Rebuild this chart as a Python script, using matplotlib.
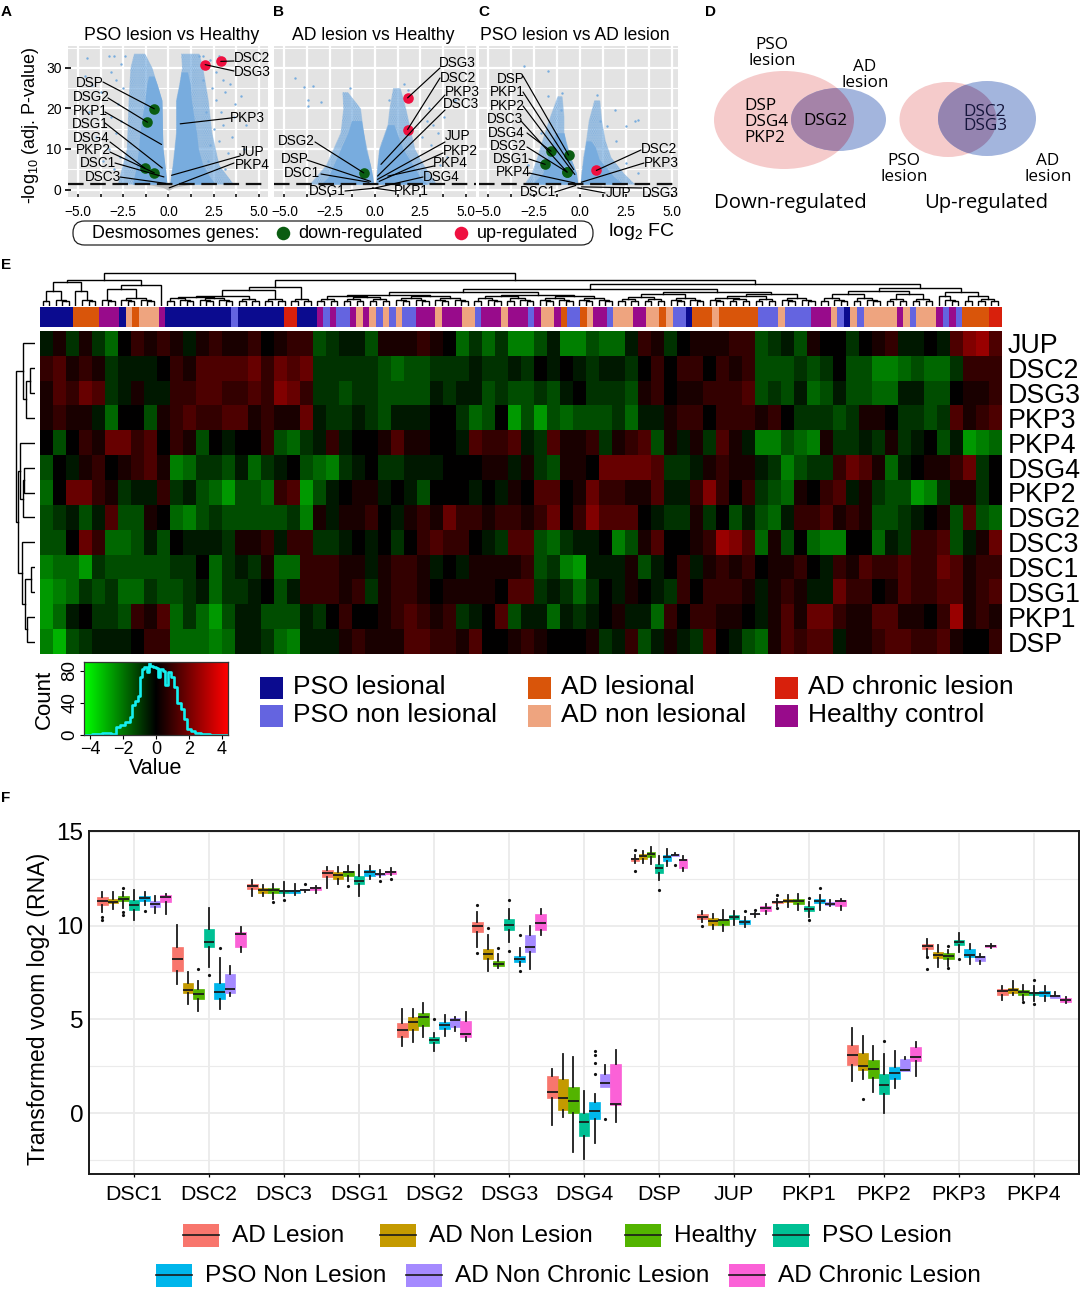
import math
import numpy as np
import matplotlib
matplotlib.use("Agg")
import matplotlib.pyplot as plt
from matplotlib.colors import LinearSegmentedColormap, ListedColormap
from matplotlib.patches import Ellipse, FancyBboxPatch, Rectangle

plt.rcParams['font.family'] = ['Liberation Sans', 'DejaVu Sans']
plt.rcParams['mathtext.default'] = 'regular'

W, H = 1084, 1289

# ---------- volcano data ----------
BLUE = '#78acde'
GREEN = '#0b5d12'
RED = '#ef1040'

a_titles = ['PSO lesion vs Healthy', 'AD lesion vs Healthy', 'PSO lesion vs AD lesion']

# dense cloud envelopes: -log10(p) level, inner and outer logFC
a_left_v = [1.3, 5, 10, 14, 18, 22, 26, 28]
a_left_in = [-0.08, -0.17, -0.3, -0.33, -0.34, -0.36, -0.63, -0.8]
a_left_out = [-2.0, -1.8, -1.65, -1.58, -1.45, -1.3, -1.2, -1.1]
a_right_v = [1.3, 3, 6, 10, 14, 18, 22, 26, 29]
a_right_in = [0.08, 0.13, 0.23, 0.33, 0.42, 0.42, 0.42, 0.6, 0.7]
a_right_out = [2.6, 2.3, 1.9, 1.65, 1.55, 1.4, 1.27, 1.2, 1.05]
# sparse cloud envelopes
a_lsp_v = [1.3, 10, 22, 26, 30, 33.5]
a_lsp_in = [-0.08, -0.3, -0.36, -0.63, -0.9, -1.3]
a_lsp_out = [-2.8, -2.3, -2.2, -2.15, -2.1, -1.9]
a_rsp_v = [1.3, 6, 14, 22, 26, 30, 33.5]
a_rsp_in = [0.08, 0.23, 0.42, 0.42, 0.6, 0.75, 0.7]
a_rsp_out = [3.6, 2.8, 2.4, 2.2, 2.05, 1.9, 1.7]
a_pts_fc = [-4.5, -4.6, -4.2, -3.7, -3.3, -3.0, -3.2, -2.9, -2.6, -2.4, -2.8, -2.5, -3.2, -4.0, -3.3, -3.6, -2.9, -2.6,
            -3.0, -2.7, -4.4, 1.7, 2.3, 2.6, 3.0, 3.4, 3.1, 4.0, 3.7, 2.6, 2.9, 3.6, 2.5, 3.0, 2.8, 3.5, 4.2, 3.3, 2.2,
            3.1, 4.3, 2.4, 1.9, 2.1, 2.3, 1.9, 2.8]
a_pts_v = [32.5, 28, 25.7, 24, 33, 33, 29, 27, 31, 33, 21, 25, 18, 13, 10, 7, 14, 17,
           5, 8, 19, 33, 32, 29, 27, 26, 24, 23, 21, 22, 19, 18, 15, 16, 12, 13, 10, 9, 7,
           5, 16, 25, 27, 19, 11, 33, 33]

b_left_v = [1.3, 3, 6, 10, 14, 17]
b_left_in = [-0.08, -0.12, -0.25, -0.5, -0.63, -0.75]
b_left_out = [-3.0, -2.6, -2.3, -1.9, -1.5, -1.3]
b_right_v = [1.3, 3, 6, 10, 14, 16]
b_right_in = [0.06, 0.08, 0.13, 0.23, 0.55, 0.7]
b_right_out = [2.9, 2.5, 2.1, 1.55, 1.2, 1.05]
b_lsp_v = [1.3, 6, 14, 20, 24]
b_lsp_in = [-0.08, -0.25, -0.63, -0.8, -1.5]
b_lsp_out = [-3.6, -2.7, -1.9, -1.75, -1.8]
b_rsp_v = [1.3, 6, 10, 16, 20, 25]
b_rsp_in = [0.06, 0.13, 0.23, 0.7, 0.8, 1.0]
b_rsp_out = [3.4, 2.7, 2.2, 1.9, 1.7, 1.4]
b_pts_fc = [-4.4, -3.4, -3.9, -1.4, -3.7, -3.0, -3.7, 0.8, 1.6, 1.8, 4.4, 3.5, 3.8, 3.0, 3.2, 4.0, 3.6, 2.9, 2.6, 3.1]
b_pts_v = [27.5, 25.6, 25.3, 25, 22, 21.5, 20.5, 22, 26, 24.6, 22, 14, 18, 20, 16, 8, 6, 17, 13, 11]

c_left_v = [1.3, 4, 8, 11.5, 14]
c_left_in = [-0.1, -0.17, -0.5, -0.75, -0.85]
c_left_out = [-2.6, -2.0, -1.75, -1.5, -1.3]
c_right_v = [1.3, 3, 4, 7.5, 10.5, 12]
c_right_in = [0.05, 0.08, 0.1, 0.2, 0.3, 0.35]
c_right_out = [2.4, 1.9, 1.7, 1.06, 0.85, 0.6]
c_lsp_v = [1.3, 4, 8, 14, 18, 23]
c_lsp_in = [-0.1, -0.17, -0.5, -0.85, -0.85, -0.95]
c_lsp_out = [-3.0, -2.6, -2.3, -1.9, -1.6, -1.2]
c_rsp_v = [1.3, 4, 8, 12, 17, 22]
c_rsp_in = [0.05, 0.1, 0.2, 0.35, 0.5, 0.8]
c_rsp_out = [3.0, 2.4, 1.7, 1.4, 1.2, 1.1]
c_pts_fc = [-3.0, -1.7, -1.7, -0.95, -1.0, 0.95, 1.9, 3.0, 3.2, 2.5, 2.0, 3.2, 2.5, 1.5, 1.1, -2.1, -2.8]
c_pts_v = [30.4, 29.3, 23, 23.8, 19.7, 23.4, 19.7, 16.8, 17.2, 15.6, 12, 4, 6.5, 15.6, 17, 14, 6]

# gene, logFC, -log10 p, significance ('d', 'u' or '')
a_genes = ['DSC2', 'DSG3', 'DSP', 'DSG2', 'PKP1', 'DSG1', 'DSG4', 'PKP2', 'DSC1', 'DSC3', 'PKP3', 'JUP', 'PKP4']
a_fc = [2.89, 2.03, -0.78, -1.16, -0.38, -0.34, -1.29, -0.78, -0.25, -0.15, 0.65, 0.17, 0.04]
a_lp = [31.6, 30.8, 19.9, 16.6, 11.1, 5.3, 5.2, 4.1, 3.1, 1.5, 16.2, 3.5, 0.4]
a_sig = ['u', 'u', 'd', 'd', '', '', 'd', 'd', '', '', '', '', '']
b_genes = ['DSG3', 'DSC2', 'PKP3', 'DSC3', 'JUP', 'PKP2', 'PKP4', 'DSG4', 'PKP1', 'DSG1', 'DSC1', 'DSP', 'DSG2']
b_fc = [1.8, 1.8, 0.33, 0.14, 0.14, 0.23, 0.71, 0.04, -0.14, -0.06, -0.33, -0.24, -0.62]
b_lp = [22.6, 14.8, 6.2, 3.3, 2.5, 2.0, 3.3, 0.4, 0.4, 0.3, 1.8, 2.0, 4.1]
b_sig = ['u', 'u', '', '', '', '', '', '', '', '', '', '', 'd']
c_genes = ['DSP', 'PKP1', 'PKP2', 'DSC3', 'DSG4', 'DSG2', 'DSG1', 'PKP4', 'DSC1', 'JUP', 'DSG3', 'DSC2', 'PKP3']
c_fc = [-0.6, -0.32, -0.26, -0.68, -1.55, -0.68, -1.87, -0.26, -0.21, -0.1, 0.1, 0.91, 0.1]
c_lp = [8.5, 4.9, 3.7, 4.3, 9.45, 4.3, 6.2, 1.6, 1.0, 0.4, 0.65, 4.7, 1.8]
c_sig = ['d', '', '', 'd', 'd', 'd', 'd', '', '', '', '', 'u', '']

# ---------- heatmap data ----------
row_names = ['JUP', 'DSC2', 'DSG3', 'PKP3', 'PKP4', 'DSG4', 'PKP2', 'DSG2', 'DSC3', 'DSC1', 'DSG1', 'PKP1', 'DSP']
heat_jup = [-1,1,-2,1,-2,-4,0,2,1,2,1,-1,1,2,1,1,2,0,1,2,2,-3,-2,-1,-1, -3,1,1,1,2,1,0,-4,-2,-4,-2,-5,-5,-3,-1,-5,-5,-3,-4,-4,-1,2,1,-2,0, 1,1,1,2,2,-3,-2,-1,-3,1,0,0,-2,0,1,2,-1,-1,0,-1,3,5,6,3]
heat_dsc2 = [2,3,1,2,1,-2,-1,-1,-1,0,2,1,3,3,3,3,4,2,4,3,4,-2,-2,-2,-2, -2,-3,-4,-3,-3,-2,-2,-2,-1,-2,-2,-1,-2,0,-1,0,-1,-2,-1,-1,-2,0,2,0,2, 2,0,2,1,2,-3,-3,-3,-2,-3,-2,0,-3,-3,-5,-5,-4,-3,-4,-4,-2,2,2,2]
heat_dsg3 = [1,3,2,4,3,-2,-1,1,-1,-1,2,2,3,3,2,2,3,2,5,4,2,-2,-2,-3,-2, -2,-3,-3,-3,-3,-1,-2,-1,-1,-3,-2,-3,-3,-2,-3,-1,0,-2,-2,-2,-3,1,2,0,1, 1,2,2,2,3,-3,-2,-3,-1,-4,-3,-1,-3,-3,-4,-4,-1,-1,-3,-3,0,1,1,2]
heat_pkp3 = [1,2,1,1,-1,-4,0,0,-3,1,2,3,2,2,3,3,1,2,1,1,4,-1,-2,-2,-1, -2,-3,-1,-1,-1,0,0,-2,-4,-3,0,-6,-3,-6,-3,-4,-3,-3,-3,-2,-4,-1,-1,1,2, 2,0,2,2,2,1,2,0,-2,-2,-2,-3,-2,1,1,0,-2,-2,-3,-2,3,1,2,3]
heat_pkp4 = [0,-3,0,2,1,4,4,2,3,0,2,1,-3,0,-1,0,0,2,-3,-4,-2,-1,2,-1,0, 0,1,3,1,1,0,0,-1,3,2,2,3,-1,-2,3,1,1,2,-2,1,2,3,-3,1,-1, 1,-2,3,1,-1,-5,-5,-3,-4,-5,1,-2,-2,-1,-2,1,-2,-1,0,-3,-1,-6,-5,-4]
heat_dsg4 = [-3,0,-1,1,2,0,1,2,3,1,-5,-4,-2,-2,-3,-1,-4,-2,-1,0,-3,-4,-5,-2,-1, 0,-2,-2,-1,-1,-1,0,0,0,1,1,-1,1,-2,-3,1,1,0,4,4,4,4,3,-2,-2, -1,1,2,1,1,-1,-2,-5,-3,-2,-2,2,4,3,1,-4,-1,0,1,1,2,4,-2,0]
heat_pkp2 = [-4,0,4,4,2,1,-2,-1,-1,2,-2,-1,-3,-4,-6,-3,-3,-4,2,3,-6,-3,-1,0,1, 1,-1,0,-1,-3,0,0,0,-1,0,-1,1,0,3,3,0,1,4,2,2,1,1,3,-1,-1, 2,5,2,0,2,-2,-3,-4,1,0,2,3,-1,1,-2,-3,-3,-6,-5,-2,1,1,-2,0]
heat_dsg2 = [-3,-2,-1,-3,-1,3,-3,-3,1,0,-4,-5,-3,-2,-3,-3,-3,-3,-3,-2,-5,1,-1,1,1, 2,0,-1,1,2,1,4,2,2,1,2,2,1,2,4,0,2,5,3,3,3,0,-1,-2,-2, 1,-2,0,-3,-1,-3,-4,-1,2,2,3,1,2,1,-3,-3,-2,-1,0,1,-3,3,-3,-4]
heat_dsc3 = [-3,-3,0,4,2,-4,-4,-3,-1,-3,0,-1,-1,-1,-2,1,1,2,-1,2,2,-2,-2,-1,0, -1,0,-2,0,2,3,2,2,0,-1,-2,3,3,-3,-4,-2,-1,-1,0,-5,-3,1,3,0,0, 1,2,6,5,3,-4,1,-3,0,-4,-5,-5,0,0,-4,-1,-2,2,2,3,-3,-1,1,4]
heat_dsc1 = [-5,-4,-4,-6,-2,-3,-3,-3,-3,-3,-2,-2,0,-4,-2,-1,-2,1,-4,-4,2,2,2,1,1, -1,1,2,2,1,-1,0,-1,1,1,1,1,2,-3,-2,-5,-6,-1,-1,-1,1,-3,-1,0,2, -1,1,2,1,2,0,1,1,2,0,-1,2,1,3,2,2,3,2,2,4,3,1,2,2]
heat_dsg1 = [-6,-5,-4,-2,-3,-2,-4,-4,-2,-3,-3,-2,-1,-4,-2,-2,-1,0,-3,-1,2,2,2,1,2, -2,1,2,2,1,0,1,1,1,1,0,3,3,-2,-1,-2,-4,-2,0,-1,1,0,-1,-2,2, 0,2,2,2,1,-1,1,2,1,-1,-1,4,2,2,0,1,3,2,2,3,3,1,2,3]
heat_pkp1 = [-6,-4,-1,0,-2,-2,-3,2,1,3,-4,-2,-4,-6,-3,-1,-1,-3,-3,-3,-1,-2,0,2,0, 0,1,2,3,2,1,2,-2,-1,0,3,-3,-1,-1,-4,-1,-2,-1,0,1,-1,-1,-4,2,0, 2,2,1,1,0,-1,1,3,1,4,4,2,1,1,3,3,1,1,0,2,6,1,2,1]
heat_dsp = [-5,-7,-3,-2,-1,-1,-1,0,2,2,-4,-4,-4,-5,-4,-1,-1,-2,-4,-5,-1,-1,-1,1,2, 1,1,1,3,3,2,2,1,3,0,0,1,2,1,0,0,0,1,-2,-1,2,-3,-1,1,-1, -2,3,0,-1,-3,-4,1,3,2,3,3,-1,1,1,2,3,3,2,2,3,1,0,0,2]

group_names = ['PSO lesional', 'PSO non lesional', 'AD lesional', 'AD non lesional', 'AD chronic lesion', 'Healthy control']
group_colors = ['#0b0b8f', '#6464e0', '#d9550a', '#eea47f', '#d8200c', '#980b8b']
# sample groups along the top bar: group index, run length
bar_groups = [0,2,5,0,3,2,3,5,0,1,0,4,0,5,1,5,1,5,3,5,3,1,3,1,3,1,5,3,5,3,1,5,3,5,1,5,
              3,5,2,1,2,3,5,1,3,5,3,2,3,1,0,2,3,2,1,3,1,5,3,1,0,3,1,3,5,3,1,3,5,1,5,1,2,4,2]
bar_runs = [5,4,3,1,1,1,3,1,10,1,7,2,3,1,1,1,2,1,1,1,1,1,1,1,1,2,3,1,3,2,1,3,1,3,1,1,
            2,1,1,2,1,1,2,1,3,2,2,1,1,2,1,3,1,6,3,1,4,3,1,1,1,1,1,5,1,1,1,3,1,1,1,1,4,2,0]

# nested merges: (merge height, left, right); an integer is a small group of samples
col_tree = (33,
            (26,
             (24, (15, 2, 3), (15, 1, 3)),
             (21, (17, 3, 6), 1)),
            (26,
             (19, (16, (10, 11, 4), 4), 4),
             (22,
              (17,
               (14, (11, (10, 4, 8), (10, 6, 6)), (11, (10, 5, 5), (10, 6, 6))),
               (14, (12, 8, 6), (12, (10, 7, 4), 6))),
              (18,
               (15, (12, 5, 5), (12, 4, 4)),
               (14, (10, 1, 3), (10, 2, 4))))))
row_tree = (19,
            (12, 1, (9, (5, 1, 1), 1)),
            (17,
             (15, 1, (12, (11, 1, 1), 1)),
             (13, 1, (10, (4.5, 1, 1), (8, 1, 1)))))

hist_value = [-4.3, -3.5, -3.0, -2.5, -2.3, -2.0, -1.7, -1.5, -1.4, -1.2, -1.0, -0.9, -0.8, -0.6, -0.5, -0.4, -0.3, -0.1,
              0.1, 0.2, 0.3, 0.5, 0.6, 0.8, 1.0, 1.2, 1.4, 1.6, 1.8, 2.0, 2.2, 2.5, 3.0, 3.5, 4.3]
hist_count = [0, 1, 2, 1, 10, 12, 16, 22, 38, 42, 48, 72, 82, 85, 78, 90, 86, 85,
              84, 72, 82, 80, 62, 78, 72, 60, 40, 32, 20, 8, 5, 3, 1, 0.5, 0]

# ---------- box plot data: low whisker, q1, median, q3, high whisker, outliers ----------
box_genes = ['DSC1', 'DSC2', 'DSC3', 'DSG1', 'DSG2', 'DSG3', 'DSG4', 'DSP', 'JUP', 'PKP1', 'PKP2', 'PKP3', 'PKP4']
box_groups = ['AD Lesion', 'AD Non Lesion', 'Healthy', 'PSO Lesion', 'PSO Non Lesion', 'AD Non Chronic Lesion', 'AD Chronic Lesion']
box_colors = ['#F8766D', '#C49A00', '#53B400', '#00C094', '#00B6EB', '#A58AFF', '#FB61D7']
box_dsc1 = [(10.73,11.12,11.31,11.53,11.81,[10.44,10.3]), (10.9,11.19,11.26,11.44,11.78,[]), (10.96,11.31,11.42,11.56,11.78,[10.7,10.55,11.99]),
            (10.28,10.85,11.08,11.37,11.87,[]), (11.12,11.31,11.46,11.58,11.79,[10.8]), (10.67,10.99,11.14,11.31,11.6,[]), (10.64,11.23,11.51,11.62,11.67,[])]
box_dsc2 = [(6.86,7.57,8.22,8.88,10.05,[]), (5.84,6.38,6.55,6.93,7.5,[]), (5.44,6.09,6.34,6.63,7.03,[7.66]),
            (7.78,8.85,9.13,9.8,10.92,[7.34]), (5.56,6.06,6.47,6.96,8.28,[8.79]), (6.22,6.41,6.63,7.42,7.85,[]), (8.61,8.88,9.56,9.63,9.91,[])]
box_dsc3 = [(11.58,11.95,12.11,12.24,12.43,[]), (11.6,11.72,11.88,12.02,12.17,[]), (11.4,11.76,11.92,12.02,12.2,[11.24]),
            (11.55,11.72,11.83,11.92,12.33,[11.35]), (11.62,11.76,11.85,11.92,12.24,[]), (11.81,11.87,11.9,11.94,11.97,[12.2]), (11.76,11.87,12.01,12.08,12.13,[])]
box_dsg1 = [(12.01,12.58,12.79,12.97,13.14,[]), (12.24,12.5,12.7,12.86,13.11,[]), (12.38,12.66,12.83,12.9,13.2,[12.1]),
            (11.56,12.22,12.36,12.65,13.22,[]), (12.49,12.63,12.84,12.95,13.16,[]), (12.61,12.68,12.74,12.79,12.95,[12.38]), (12.7,12.77,12.86,12.93,13.05,[12.5])]
box_dsg2 = [(3.55,4.05,4.42,4.8,5.54,[]), (3.77,4.44,4.83,5.13,5.54,[]), (4.03,4.62,5.12,5.35,5.88,[]),
            (3.29,3.71,3.89,4.03,4.26,[5.04]), (4.09,4.49,4.69,4.88,5.24,[]), (4.4,4.58,4.97,5.06,5.13,[]), (3.85,4.05,4.21,4.92,5.38,[])]
box_dsg3 = [(8.85,9.63,9.95,10.18,10.71,[11.12,8.53]), (7.6,8.21,8.49,8.74,9.47,[9.86]), (7.71,7.82,7.96,8.12,8.47,[8.79]),
            (9.13,9.75,10.05,10.34,10.89,[11.35,8.65]), (7.85,8.08,8.24,8.4,8.79,[9.52,7.55]), (7.69,8.61,8.88,9.48,10.0,[]), (9.5,9.75,10.12,10.64,10.89,[])]
box_dsg4 = [(-0.64,0.78,1.14,1.97,2.36,[]), (-0.21,0.18,0.8,1.79,3.16,[]), (-2.1,0.0,0.62,1.37,3.0,[]),
            (-2.43,-1.23,-0.46,-0.02,1.17,[]), (-1.6,-0.34,0.11,0.57,1.01,[3.32,3.07,2.65,2.08]), (1.37,1.37,1.62,2.1,2.54,[-0.32]), (-0.46,0.44,0.48,2.59,3.34,[])]
box_dsp = [(13.32,13.46,13.55,13.62,13.77,[12.91,14.03]), (13.32,13.55,13.69,13.82,13.98,[]), (13.29,13.66,13.82,13.91,14.21,[]),
           (12.43,12.82,13.05,13.29,13.71,[11.92]), (13.18,13.46,13.66,13.75,14.1,[]), (13.69,13.71,13.78,13.82,13.85,[13.23]), (12.91,13.07,13.48,13.55,13.69,[])]
box_jup = [(10.18,10.36,10.43,10.6,10.78,[9.95]), (9.84,10.05,10.23,10.39,10.62,[]), (9.73,10.05,10.3,10.37,10.83,[]),
           (10.05,10.36,10.46,10.57,10.78,[]), (9.93,10.09,10.21,10.3,10.43,[10.8]), (10.48,10.59,10.62,10.64,10.66,[10.85]), (10.62,10.8,10.94,11.03,11.17,[])]
box_pkp1 = [(11.05,11.21,11.26,11.31,11.42,[11.62,10.92]), (10.98,11.23,11.33,11.4,11.65,[]), (10.83,11.15,11.31,11.44,11.67,[]),
            (10.48,10.76,10.89,11.03,11.28,[11.47,10.3]), (10.83,11.19,11.3,11.4,11.63,[11.99]), (11.06,11.08,11.17,11.28,11.37,[]), (10.85,11.05,11.3,11.35,11.44,[])]
box_pkp2 = [(1.72,2.54,3.11,3.62,4.53,[]), (1.81,2.31,2.49,3.18,4.1,[0.75]), (1.14,1.88,2.36,2.82,3.6,[]),
            (-0.02,1.03,1.47,2.08,3.13,[3.85]), (1.33,1.83,2.13,2.43,3.3,[]), (2.22,2.22,2.27,2.9,2.98,[]), (1.95,2.75,2.98,3.5,3.8,[])]
box_pkp3 = [(8.38,8.77,8.92,9.02,9.27,[8.3,7.69]), (7.8,8.28,8.44,8.58,8.95,[]), (7.85,8.24,8.4,8.51,8.7,[8.93,7.71]),
            (8.58,8.97,9.11,9.24,9.59,[8.21]), (7.96,8.3,8.42,8.74,9.04,[]), (7.96,8.12,8.33,8.4,8.47,[]), (8.81,8.86,8.93,8.97,9.0,[])]
box_pkp4 = [(6.04,6.32,6.5,6.63,6.75,[]), (6.27,6.41,6.57,6.68,7.02,[]), (6.04,6.31,6.43,6.55,6.84,[5.91]),
            (5.95,6.27,6.38,6.47,6.75,[7.07,5.83]), (5.97,6.23,6.39,6.5,6.77,[]), (6.12,6.13,6.22,6.31,6.47,[]), (5.86,5.91,6.02,6.11,6.18,[])]
box_all = [box_dsc1, box_dsc2, box_dsc3, box_dsg1, box_dsg2, box_dsg3, box_dsg4, box_dsp, box_jup, box_pkp1, box_pkp2, box_pkp3, box_pkp4]

# ---------- helpers ----------
fig = plt.figure(figsize=(W / 100, H / 100), dpi=100, facecolor='white')


def axpx(l, t, r, b, **kw):
    return fig.add_axes([l / W, 1 - b / H, (r - l) / W, (b - t) / H], **kw)


ov = axpx(0, 0, W, H, zorder=20)
ov.set_xlim(0, W)
ov.set_ylim(H, 0)
ov.axis('off')
ov.patch.set_alpha(0)


def txt(x, y, s, size, ha='center', va='center', **kw):
    return ov.text(x, y, s, fontsize=size, ha=ha, va=va, **kw)


# ---------- panels A-C ----------
def volcano(rect, xlim, title, title_x, clouds, pts, genes, fc, lp, sig, labels, left_axis=False):
    l, t, r, b = rect
    ax = axpx(l, t, r, b, facecolor='#e3e3e3')
    ax.set_xlim(*xlim)
    ax.set_ylim(-1.85, 35.4)
    ax.set_xticks([-5, -3.75, -2.5, -1.25, 0, 1.25, 2.5, 3.75, 5])
    ax.set_xticklabels(['\u22125.0', '', '\u22122.5', '', '0.0', '', '2.5', '', '5.0'], fontsize=9.8)
    ax.tick_params(axis='x', length=2, width=1.3, pad=6, color='#222222', direction='in')
    ax.set_yticks([0, 10, 20, 30])
    if left_axis:
        ax.set_yticklabels(['0', '10', '20', '30'], fontsize=10)
        ax.tick_params(axis='y', length=5, width=1.4, pad=2, color='#222222', direction='inout')
    else:
        ax.tick_params(axis='y', length=0, labelleft=False)
    for s in ax.spines.values():
        s.set_visible(False)
    ax.set_axisbelow(True)
    ax.grid(True, which='major', color='white', lw=1.6)
    for v in [5, 15, 25, 35]:
        ax.axhline(v, color='white', lw=0.8, zorder=0.5)
    for v, i, o in clouds[1]:
        ax.fill_betweenx(v, i, o, color=BLUE, alpha=0.38, lw=0, zorder=1)
        ax.fill_betweenx(v, i, o, facecolor='none', edgecolor=BLUE, lw=0, hatch='.........', zorder=1.2)
    for v, i, o in clouds[0]:
        ax.fill_betweenx(v, i, o, color=BLUE, lw=0, zorder=1.5)
    ax.scatter(pts[0], pts[1], s=3, color=BLUE, lw=0, zorder=2)
    ax.axhline(1.3, color='#111111', lw=1.6, dashes=(7, 3), zorder=3)
    for name, f, p, s in zip(genes, fc, lp, sig):
        if s:
            ax.scatter([f], [p], s=58, color=GREEN if s == 'd' else RED, lw=0, zorder=4)
    for name, f, p, (tx, ty, sx, sy) in zip(genes, fc, lp, labels):
        ex, ey = ax.transData.transform((f, p))
        ex, ey = ex, H - ey
        ov.plot([sx, ex], [sy, ey], color='black', lw=0.85, solid_capstyle='round')
        txt(tx, ty, name, 9.8)
    txt(title_x, 35, title, 12.7)
    return ax


a_labels = [(252, 58, 234, 61), (252, 72, 234, 71), (90, 83, 103, 82), (91, 97, 108, 98), (90, 111, 105, 112),
            (90, 124, 105, 123), (91, 138, 110, 142), (93, 150, 110, 152), (98, 163, 115, 163), (103, 177, 120, 177),
            (247, 118, 231, 118), (252, 152, 240, 156), (252, 165, 234, 163)]
b_labels = [(457, 63, 440, 68), (458, 78, 440, 78), (462, 92, 445, 95), (461, 104, 445, 110), (458, 136, 445, 142),
            (460, 151, 443, 153), (450, 163, 434, 166), (441, 177, 423, 177), (411, 191, 395, 191), (327, 191, 345, 191),
            (302, 173, 321, 174), (295, 159, 307, 160), (296, 141, 315, 142)]
c_labels = [(511, 79, 523, 76), (507, 92, 523, 92), (507, 106, 523, 106), (505, 119, 521, 121), (506, 133, 527, 133),
            (508, 146, 527, 147), (511, 159, 529, 159), (513, 172, 529, 173), (538, 192, 555, 192), (619, 193, 605, 193),
            (660, 193, 642, 188), (659, 149, 641, 150), (661, 163, 644, 163)]

ax_a = volcano((68, 46, 268, 197), (-5.55, 5.5), a_titles[0], 172,
               ([(a_left_v, a_left_in, a_left_out), (a_right_v, a_right_in, a_right_out)],
                [(a_lsp_v, a_lsp_in, a_lsp_out), (a_rsp_v, a_rsp_in, a_rsp_out)]),
               (a_pts_fc, a_pts_v), a_genes, a_fc, a_lp, a_sig, a_labels, left_axis=True)
ax_a.fill_between([-1.2, -0.3, 0, 0.3, 1.2], [1.3, 0.5, -0.2, 0.5, 1.3], [1.3, 1.3, 1.3, 1.3, 1.3], color='#bdbdbd', lw=0, zorder=1)
ax_b = volcano((274, 46, 476, 197), (-5.58, 5.58), a_titles[1], 373,
               ([(b_left_v, b_left_in, b_left_out), (b_right_v, b_right_in, b_right_out)],
                [(b_lsp_v, b_lsp_in, b_lsp_out), (b_rsp_v, b_rsp_in, b_rsp_out)]),
               (b_pts_fc, b_pts_v), b_genes, b_fc, b_lp, b_sig, b_labels)
ax_c = volcano((479, 46, 678, 197), (-5.47, 5.35), a_titles[2], 575,
               ([(c_left_v, c_left_in, c_left_out), (c_right_v, c_right_in, c_right_out)],
                [(c_lsp_v, c_lsp_in, c_lsp_out), (c_rsp_v, c_rsp_in, c_rsp_out)]),
               (c_pts_fc, c_pts_v), c_genes, c_fc, c_lp, c_sig, c_labels)

txt(31, 125, '-log$_{10}$ (adj. P-value)', 13, rotation=90)
for x, y, s in [(6, 12, 'A'), (278, 12, 'B'), (484, 12, 'C'), (711, 12, 'D'), (6, 265, 'E'), (6, 798, 'F')]:
    txt(x, y, s, 11, fontweight='bold')

pill = FancyBboxPatch((84, 232), 498, 2, boxstyle='round,pad=11,rounding_size=11.5', fc='white', ec='#222222', lw=0.9)
ov.add_patch(pill)
txt(176, 233, 'Desmosomes genes:', 12.9)
ov.scatter([283], [233], s=95, color=GREEN, lw=0)
txt(360, 233, 'down-regulated', 13)
ov.scatter([461], [233], s=95, color=RED, lw=0)
txt(527, 233, 'up-regulated', 13)
txt(641, 232, 'log$_{2}$ FC', 14)

# ---------- panel D ----------
VENN_PINK = '#f5cbcb'
VENN_BLUE = '#a3b5dd'


def venn(c1, wh1, c2, wh2, overlap):
    e1 = Ellipse(c1, wh1[0], wh1[1], fc=VENN_PINK, lw=0)
    e2 = Ellipse(c2, wh2[0], wh2[1], fc=VENN_BLUE, lw=0)
    ov.add_patch(e1)
    ov.add_patch(e2)
    e3 = Ellipse(c2, wh2[0], wh2[1], fc=overlap, lw=0)
    ov.add_patch(e3)
    e3.set_clip_path(Ellipse(c1, wh1[0], wh1[1], transform=ov.transData))


venn((784, 120), (140, 98), (838.5, 119.5), (95, 63), '#a583a8')
venn((948, 119.5), (97, 75), (987, 118.5), (98, 75), '#9584b0')
DF = ['Open Sans', 'DejaVu Sans']
txt(772, 53, 'PSO\nlesion', 12.3, family=DF, linespacing=0.95)
txt(865, 75, 'AD\nlesion', 12.3, family=DF, linespacing=0.95)
txt(744, 122, 'DSP\nDSG4\nPKP2', 12.3, ha='left', family=DF, linespacing=1.0)
txt(825, 121, 'DSG2', 12.3, family=DF)
txt(985, 119, 'DSC2\nDSG3', 12.3, ha='center', family=DF, linespacing=0.9, color='#16163c')
txt(904, 169, 'PSO\nlesion', 12.3, family=DF, linespacing=0.95)
txt(1048, 169, 'AD\nlesion', 12.3, family=DF, linespacing=0.95)
txt(790, 203, 'Down-regulated', 14.7, family=DF)
txt(986, 203, 'Up-regulated', 14.6, family=DF)

# ---------- panel E ----------
heat_rows = [heat_jup, heat_dsc2, heat_dsg3, heat_pkp3, heat_pkp4, heat_dsg4, heat_pkp2, heat_dsg2, heat_dsc3, heat_dsc1, heat_dsg1, heat_pkp1, heat_dsp]
gbr = LinearSegmentedColormap.from_list('gbr', ['#00ff00', '#000000', '#ff0000'])
axh = axpx(39.5, 331, 1001, 654)
axh.imshow(np.array(heat_rows, dtype=float), cmap=gbr, vmin=-10, vmax=10, aspect='auto', interpolation='nearest')
axh.set_xticks([])
axh.set_yticks(range(len(row_names)))
axh.set_yticklabels(row_names, fontsize=19.3)
axh.yaxis.tick_right()
axh.tick_params(axis='y', length=0, pad=4.5)
for s in axh.spines.values():
    s.set_visible(False)

axb = axpx(39.5, 307, 1001, 327)
axb.imshow(np.repeat(bar_groups, bar_runs)[None, :], cmap=ListedColormap(group_colors), vmin=-0.5, vmax=5.5, aspect='auto', interpolation='nearest')
axb.axis('off')


def expand(n, h=None):
    if n == 1:
        return 1
    h = 5.5 + 1.6 * math.log2(n) - 1.6 if h is None else h
    a = n // 2
    return (h, expand(a), expand(n - a))


def draw_tree(ax, node, count, vertical=True):
    if not isinstance(node, tuple):
        node = expand(node) if node != 1 else None
    if node is None:
        pos = count[0] + 0.5
        count[0] += 1
        return pos, 0
    h, a, b = node
    pa, ha = draw_tree(ax, a, count, vertical)
    pb, hb = draw_tree(ax, b, count, vertical)
    xs, ys = [pa, pa, pb, pb], [ha, h, h, hb]
    if vertical:
        ax.plot(xs, ys, color='black', lw=1.0, solid_joinstyle='miter')
    else:
        ax.plot(ys, xs, color='black', lw=1.0, solid_joinstyle='miter')
    return (pa + pb) / 2, h


axd = axpx(39.5, 271, 1001, 306)
axd.set_xlim(0, 147)
axd.set_ylim(0, 35)
axd.axis('off')
draw_tree(axd, col_tree, [0])

axr = axpx(14, 331, 35, 654)
axr.set_xlim(21, 0)
axr.set_ylim(13, 0)
axr.axis('off')
draw_tree(axr, row_tree, [0], vertical=False)

# colour key
axk = axpx(84, 662, 228, 735)
grad = np.linspace(-4.36, 4.36, 256)[None, :]
axk.imshow(grad, cmap=gbr, vmin=-4.36, vmax=4.36, aspect='auto', extent=(-4.36, 4.36, 0, 91))
axk.step(hist_value, hist_count, where='mid', color='#14f0f0', lw=1.9)
axk.set_xlim(-4.36, 4.36)
axk.set_ylim(0, 91)
axk.set_xticks([-4, -2, 0, 2, 4])
axk.set_xticklabels(['\u22124', '\u22122', '0', '2', '4'], fontsize=13)
axk.set_yticks([0, 40, 80])
axk.set_yticklabels(['0', '40', '80'], fontsize=13.5, rotation=90, va='center')
axk.tick_params(length=3, width=0.8, pad=1)
for s in axk.spines.values():
    s.set_linewidth(0.9)
    s.set_color('#333333')
txt(156, 768, 'Value', 15.5)
txt(44, 699, 'Count', 16, rotation=90)

leg_x = [260, 260, 528, 528, 775, 775]
leg_y = [677, 705, 677, 705, 677, 705]
for (x, y, name, col) in zip(leg_x, leg_y, group_names, group_colors):
    ov.add_patch(Rectangle((x, y), 22.5, 22, fc=col, ec='none'))
    txt(x + 33, y + 10, name, 19, ha='left')

# ---------- panel F ----------
axf = axpx(89, 831, 1079, 1174, facecolor='white')
step = 0.141
for gi, boxes in enumerate(box_all):
    scale = 0.76 if box_genes[gi] == 'DSP' else 1.0
    for k, (lo, q1, med, q3, hi, fl) in enumerate(boxes):
        pos = gi + 1 + (k - 3) * step * scale
        st = [dict(whislo=lo, q1=q1, med=med, q3=q3, whishi=hi, fliers=fl)]
        axf.bxp(st, positions=[pos], widths=step * scale, patch_artist=True, showcaps=False, manage_ticks=False,
                boxprops=dict(facecolor=box_colors[k], edgecolor=box_colors[k], lw=0.5),
                medianprops=dict(color='#1a1a1a', lw=1.3, solid_capstyle='butt'),
                whiskerprops=dict(color='#1a1a1a', lw=1.3),
                flierprops=dict(marker='o', markersize=2.3, markerfacecolor='#111111', markeredgecolor='#111111', markeredgewidth=0))
axf.set_xlim(0.4, 13.6)
axf.set_ylim(-3.25, 15.04)
axf.set_xticks(range(1, 14))
axf.set_xticklabels(box_genes, fontsize=15.4)
axf.set_yticks([0, 5, 10, 15])
axf.set_yticklabels(['0', '5', '10', '15'], fontsize=17.5)
axf.set_yticks([-2.5, 2.5, 7.5, 12.5], minor=True)
axf.tick_params(axis='x', length=2.5, width=0.9, pad=5.5)
axf.tick_params(axis='y', which='major', length=0, pad=4)
axf.tick_params(axis='y', which='minor', length=0)
axf.set_axisbelow(True)
axf.grid(True, which='major', color='#ebebeb', lw=1.3)
axf.grid(True, which='minor', axis='y', color='#ebebeb', lw=0.8)
for s in axf.spines.values():
    s.set_linewidth(1.4)
    s.set_color('#1a1a1a')
txt(39, 1009, 'Transformed voom log2 (RNA)', 16.6, rotation=90)

key_x = [183, 380, 625, 773, 156, 406, 729]
key_y = [1235, 1235, 1235, 1235, 1275, 1275, 1275]
for x, y, name, col in zip(key_x, key_y, box_groups, box_colors):
    ov.add_patch(Rectangle((x, y - 11.5), 36, 23, fc=col, ec='none'))
    ov.plot([x, x + 36], [y, y], color='#1a1a1a', lw=1.2)
    txt(x + 49, y + 1, name, 17.6, ha='left')

ov.set_xlim(0, W)
ov.set_ylim(H, 0)
fig.savefig('out.png', dpi=100, facecolor='white')
